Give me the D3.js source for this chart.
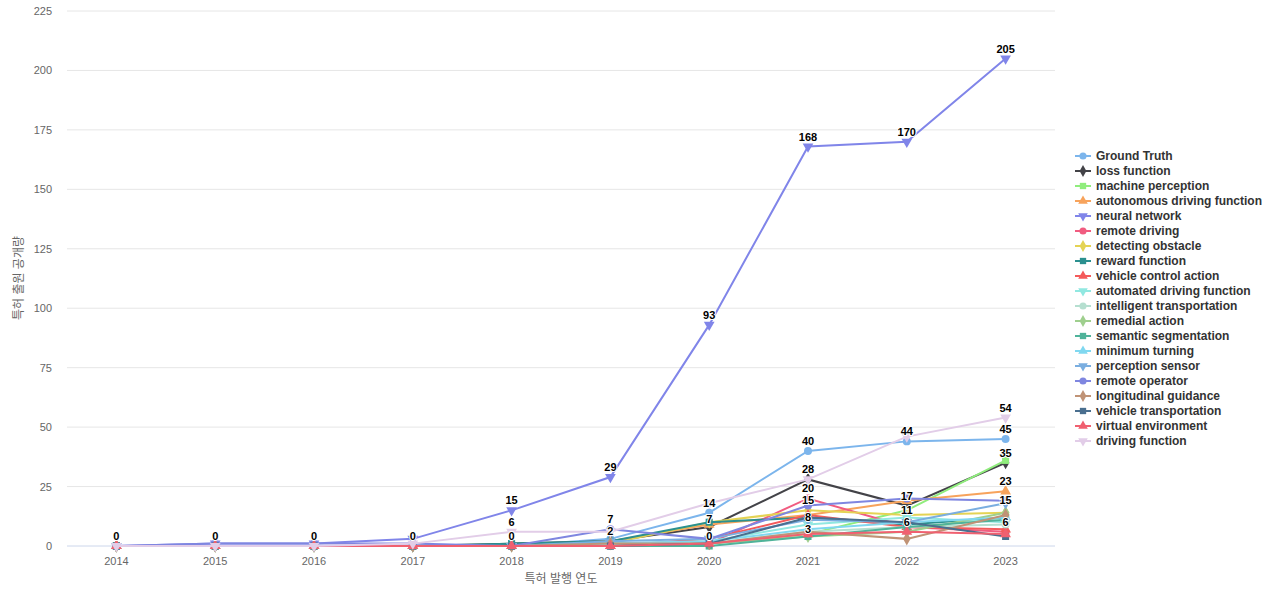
<!DOCTYPE html><html><head><meta charset="utf-8"><script src="https://cdn.jsdelivr.net/npm/d3@7"></script>
<style>body{margin:0;background:#fff;font-family:"Liberation Sans","Noto Sans CJK KR",sans-serif}</style></head><body><svg id="c" width="1280" height="600"></svg>
<script>
const years=[2014,2015,2016,2017,2018,2019,2020,2021,2022,2023];
const seriesNames=["Ground Truth","loss function","machine perception","autonomous driving function","neural network","remote driving","detecting obstacle","reward function","vehicle control action","automated driving function","intelligent transportation","remedial action","semantic segmentation","minimum turning","perception sensor","remote operator","longitudinal guidance","vehicle transportation","virtual environment","driving function"];
const seriesValues=[
[0,0,0,0,0,3,14,40,44,45],
[0,0,0,0,1,2,8,28,17,35],
[0,0,0,0,0,1,1,5,15,36],
[0,0,0,0,0,2,9,13,19,23],
[0,1,1,3,15,29,93,168,170,205],
[0,0,0,0,0,0,1,20,8,6],
[0,0,0,0,0,1,10,15,13,14],
[0,0,0,0,1,2,10,12,9,12],
[0,0,0,0,0,0,3,13,8,7],
[0,0,0,0,0,1,2,9,12,10],
[0,0,0,0,0,1,1,6,8,9],
[0,0,0,0,0,1,1,4,6,14],
[0,0,0,0,0,0,0,4,8,11],
[0,0,0,0,0,1,2,7,10,12],
[0,0,0,0,0,2,3,11,10,18],
[0,1,1,1,0,7,3,17,20,19],
[0,0,0,0,0,1,1,6,3,13],
[0,0,0,0,0,0,1,12,10,4],
[0,0,0,0,0,0,1,5,6,5],
[0,0,0,1,6,6,18,28,46,54]];
const colors=["#7cb5ec","#434348","#90ed7d","#f7a35c","#8085e9","#f15c80","#e4d354","#2b908f","#f45b5b","#91e8e1","#b5dfd0","#9fcf8e","#4fb39a","#80d8f0","#7aaee0","#7f86e0","#c09376","#4a6f8f","#f06070","#e2cde8"];
const symbols=[d3.symbolCircle,d3.symbolDiamond,d3.symbolSquare,d3.symbolTriangle,"down"];
const labels=[[2014,0],[2015,0],[2016,0],[2017,0],[2018,15],[2018,6],[2018,0],[2019,29],[2019,7],[2019,2],[2020,93],[2020,14],[2020,7],[2020,0],[2021,168],[2021,40],[2021,28],[2021,20],[2021,15],[2021,8],[2021,3],[2022,170],[2022,44],[2022,17],[2022,11],[2022,6],[2023,205],[2023,54],[2023,45],[2023,35],[2023,23],[2023,15],[2023,6]];
const yTicks=[0,25,50,75,100,125,150,175,200,225];
const svg=d3.select("#c");
const x=d3.scalePoint().domain(years).range([67,1055]).padding(0.5);
const y=d3.scaleLinear().domain([0,225]).range([546,11]);
const g=svg.append("g");
g.selectAll(".gl").data(yTicks).join("line").attr("x1",67).attr("x2",1055).attr("y1",d=>y(d)).attr("y2",d=>y(d)).attr("stroke",d=>d?"#e6e6e6":"#ccd6eb");
g.selectAll(".yt").data(yTicks).join("text").attr("x",52).attr("y",d=>y(d)+4).attr("text-anchor","end").attr("font-size",11).attr("fill","#666").text(d=>d);
g.selectAll(".xt").data(years).join("text").attr("x",d=>x(d)).attr("y",565).attr("text-anchor","middle").attr("font-size",11).attr("fill","#666").text(d=>d);
svg.append("text").attr("x",561).attr("y",583).attr("text-anchor","middle").attr("font-size",12).attr("fill","#666").text("특허 발행 연도");
svg.append("text").attr("transform","translate(23,278) rotate(-90)").attr("text-anchor","middle").attr("font-size",12).attr("fill","#666").text("특허 출원 공개량");
function sym(i,size){const s=symbols[i%5];if(s==="down")return d3.symbol(d3.symbolTriangle,size)();return d3.symbol(s,size)();}
const line=d3.line().x((d,i)=>x(years[i])).y(d=>y(d));
seriesValues.forEach((vals,si)=>{
 const c=colors[si];
 g.append("path").attr("d",line(vals)).attr("fill","none").attr("stroke",c).attr("stroke-width",2);
 g.selectAll(null).data(vals).join("path").attr("d",sym(si,50)).attr("fill",c)
  .attr("transform",(d,i)=>`translate(${x(years[i])},${y(d)})`+(symbols[si%5]==="down"?" rotate(180)":""));
});
g.selectAll(".lb").data(labels).join("text").attr("x",d=>x(d[0])).attr("y",d=>y(d[1])-6).attr("text-anchor","middle")
 .attr("font-size",11).attr("font-weight","bold").attr("fill","#000").attr("stroke","#fff").attr("stroke-width",2).attr("paint-order","stroke").text(d=>d[1]);
const lg=svg.append("g").attr("transform","translate(1075,156)");
seriesNames.forEach((n,i)=>{
 const r=lg.append("g").attr("transform",`translate(0,${i*15})`);
 r.append("line").attr("x1",0).attr("x2",16).attr("stroke",colors[i]).attr("stroke-width",2);
 r.append("path").attr("d",sym(i,40)).attr("fill",colors[i]).attr("transform","translate(8,0)"+(symbols[i%5]==="down"?" rotate(180)":""));
 r.append("text").attr("x",21).attr("y",4).attr("font-size",12).attr("font-weight","bold").attr("fill","#333").text(n);
});
</script></body></html>
